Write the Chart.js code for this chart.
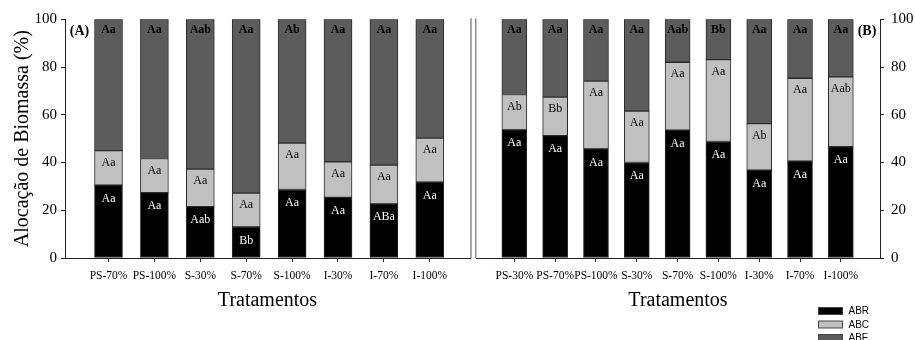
<!DOCTYPE html>
<html>
<head>
<meta charset="utf-8">
<script src="https://cdn.jsdelivr.net/npm/chart.js@4.4.1/dist/chart.umd.min.js"></script>
<style>
  html, body { margin: 0; padding: 0; background: #fff; }
  #wrap { position: relative; width: 915px; height: 340px; }
  canvas { position: absolute; top: 0; }
</style>
</head>
<body>
<div id="wrap">
  <canvas id="chartA" width="473" height="340" style="left:0"></canvas>
  <canvas id="chartB" width="442" height="340" style="left:473px"></canvas>
</div>
<script>
const seriesNames = ['ABR', 'ABC', 'ABF'];
const yTicks = [0, 20, 40, 60, 80, 100];

// painel A
const categoriesA = ['PS-70%', 'PS-100%', 'S-30%', 'S-70%', 'S-100%', 'I-30%', 'I-70%', 'I-100%'];
const abrA = [30.5, 27.4, 21.5, 13.0, 28.7, 25.4, 22.7, 31.8];
const abcA = [14.5, 14.3, 15.7, 14.2, 19.4, 14.9, 16.2, 18.4];
const abfA = [55.0, 58.3, 62.8, 72.8, 51.9, 59.7, 61.1, 49.8];
const abrLettersA = ['Aa', 'Aa', 'Aab', 'Bb', 'Aa', 'Aa', 'ABa', 'Aa'];
const abcLettersA = ['Aa', 'Aa', 'Aa', 'Aa', 'Aa', 'Aa', 'Aa', 'Aa'];
const abfLettersA = ['Aa', 'Aa', 'Aab', 'Aa', 'Ab', 'Aa', 'Aa', 'Aa'];

// painel B
const categoriesB = ['PS-30%', 'PS-70%', 'PS-100%', 'S-30%', 'S-70%', 'S-100%', 'I-30%', 'I-70%', 'I-100%'];
const abrB = [53.7, 51.3, 45.7, 40.0, 53.6, 48.8, 36.8, 40.6, 46.6];
const abcB = [14.8, 16.1, 28.4, 21.5, 28.4, 34.3, 19.5, 34.7, 29.3];
const abfB = [31.5, 32.6, 25.9, 38.5, 18.0, 16.9, 43.7, 24.7, 24.1];
const abrLettersB = ['Aa', 'Aa', 'Aa', 'Aa', 'Aa', 'Aa', 'Aa', 'Aa', 'Aa'];
const abcLettersB = ['Ab', 'Bb', 'Aa', 'Aa', 'Aa', 'Aa', 'Ab', 'Aa', 'Aab'];
const abfLettersB = ['Aa', 'Aa', 'Aa', 'Aa', 'Aab', 'Bb', 'Aa', 'Aa', 'Aa'];

const fills = ['#000000', '#c0c0c0', '#5c5c5c'];
const serif = '"Liberation Serif", "Times New Roman", serif';
const axisColor = '#222';

function makeDatasets(series, thickness) {
    return series.map((vals, k) => ({
        label: seriesNames[k],
        data: vals.map((v, i) => ({ x: i, y: v })),
        backgroundColor: fills[k],
        borderColor: '#2b2b2b',
        borderWidth: 1,
        borderSkipped: false,
        barThickness: thickness
    }));
}

const panelDeco = {
    id: 'panelDeco',
    afterDatasetsDraw(chart, args, opts) {
        const ctx = chart.ctx;
        const area = chart.chartArea;
        ctx.save();
        ctx.textAlign = 'center';
        ctx.textBaseline = 'middle';
        const offsets = [13.5, 12, 10.5];
        opts.letters.forEach((arr, k) => {
            const meta = chart.getDatasetMeta(k);
            ctx.font = (k === 2 ? 'bold ' : '') + '12px ' + serif;
            ctx.fillStyle = k === 0 ? '#fff' : '#000';
            meta.data.forEach((bar, i) => {
                ctx.fillText(arr[i], bar.x, bar.y + offsets[k]);
            });
        });

        // etiqueta do painel
        ctx.font = 'bold 14px ' + serif;
        ctx.fillStyle = '#000';
        ctx.fillText(opts.tag, opts.tagX, area.top + 12);

        // linha cinza separando os paineis
        ctx.strokeStyle = '#8c8c8c';
        ctx.lineWidth = 1.5;
        ctx.beginPath();
        ctx.moveTo(opts.sepX, area.top - 1);
        ctx.lineTo(opts.sepX, area.bottom);
        ctx.stroke();

        if (opts.legend) {
            ctx.font = '10px "Liberation Sans", Arial, sans-serif';
            ctx.textAlign = 'left';
            ctx.lineWidth = 1;
            seriesNames.forEach((name, k) => {
                const y = 307.5 + k * 13.5;
                ctx.fillStyle = fills[k];
                ctx.fillRect(345.5, y, 24, 7);
                ctx.strokeStyle = '#444';
                ctx.strokeRect(345.5, y, 24, 7);
                ctx.fillStyle = '#000';
                ctx.fillText(name, 375.5, y + 4);
            });
        }
        ctx.restore();
    }
};

function buildChart(id, cats, series, letters, cfg) {
    return new Chart(document.getElementById(id), {
        type: 'bar',
        data: { datasets: makeDatasets(series, cfg.thickness) },
        options: {
            responsive: false,
            animation: false,
            layout: { padding: cfg.padding },
            scales: {
                x: {
                    type: 'linear',
                    stacked: true,
                    offset: false,
                    min: cfg.xMin,
                    max: cfg.xMax,
                    afterBuildTicks: s => { s.ticks = cats.map((c, i) => ({ value: i })); },
                    afterFit: s => { s.height = 82; },
                    grid: { drawOnChartArea: false, offset: false, tickLength: 4, color: axisColor },
                    border: { color: axisColor, width: 1 },
                    ticks: {
                        callback: v => cats[v],
                        font: { family: serif, size: 11.5 },
                        color: '#000',
                        padding: 7,
                        maxRotation: 0,
                        autoSkip: false
                    },
                    title: {
                        display: true,
                        text: 'Tratamentos',
                        font: { family: serif, size: 20 },
                        color: '#000',
                        padding: { top: 0, bottom: 27 }
                    }
                },
                y: {
                    stacked: true,
                    position: cfg.yPos,
                    min: 0,
                    max: 100,
                    afterBuildTicks: s => { s.ticks = yTicks.map(v => ({ value: v })); },
                    afterFit: s => { s.width = cfg.yWidth; },
                    grid: { drawOnChartArea: false, tickLength: 4, color: axisColor },
                    border: { color: axisColor, width: 1 },
                    ticks: {
                        font: { family: serif, size: 15 },
                        color: '#000',
                        padding: cfg.yPad
                    },
                    title: {
                        display: cfg.yTitle,
                        text: 'Alocação de Biomassa (%)',
                        font: { family: serif, size: 20 },
                        color: '#000',
                        padding: { top: 11, bottom: 0 }
                    }
                }
            },
            plugins: {
                legend: { display: false },
                tooltip: { enabled: false },
                panelDeco: {
                    letters: letters,
                    tag: cfg.tag,
                    tagX: cfg.tagX,
                    sepX: cfg.sepX,
                    legend: cfg.legend
                }
            }
        },
        plugins: [panelDeco]
    });
}

buildChart('chartA', categoriesA, [abrA, abcA, abfA], [abrLettersA, abcLettersA, abfLettersA], {
    thickness: 28,
    padding: { top: 19.3, right: 3, bottom: 0, left: 0 },
    xMin: -0.948, xMax: 7.876,
    yPos: 'left', yWidth: 65, yPad: 4, yTitle: true,
    tag: '(A)', tagX: 79.5, sepX: 471, legend: false
});

buildChart('chartB', categoriesB, [abrB, abcB, abfB], [abrLettersB, abcLettersB, abfLettersB], {
    thickness: 25,
    padding: { top: 19.3, right: 0, bottom: 0, left: 3 },
    xMin: -0.94, xMax: 8.96,
    yPos: 'right', yWidth: 35, yPad: 7, yTitle: false,
    tag: '(B)', tagX: 394, sepX: 2.7, legend: true
});
</script>
</body>
</html>
